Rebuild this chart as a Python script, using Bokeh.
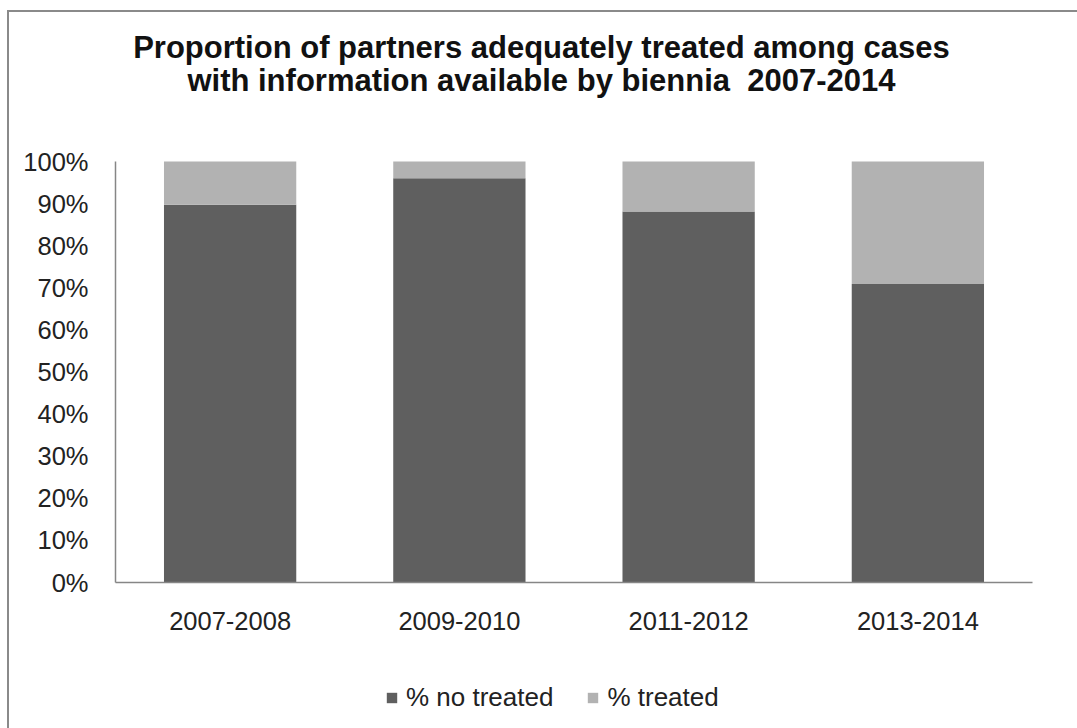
from bokeh.plotting import figure
from bokeh.layouts import column
from bokeh.models import (Legend, LegendItem, Label, NumeralTickFormatter,
                          FixedTicker, FactorRange, Range1d, ColumnDataSource)
from bokeh.embed import file_html
from bokeh.resources import INLINE

categories = ["2007-2008", "2009-2010", "2011-2012", "2013-2014"]
no_treated = [0.897, 0.960, 0.881, 0.709]
treated = [0.103, 0.040, 0.119, 0.291]
series_names = ["% no treated", "% treated"]
y_ticks = [0.0, 0.1, 0.2, 0.3, 0.4, 0.5, 0.6, 0.7, 0.8, 0.9, 1.0]
title_lines = ["Proportion of partners adequately treated among cases",
               "with information available by biennia \u00a02007-2014"]

DARK = "#5f5f5f"
LIGHT = "#b2b2b2"
FONT = "Liberation Sans"

source = ColumnDataSource(dict(cat=categories, no=no_treated, tr=treated))

# main chart; its frame also holds the title area (570 px tall, 421 px per 100 %)
p = figure(width=1068, height=630, output_backend="svg", toolbar_location=None,
           x_range=FactorRange(factors=categories, range_padding=0),
           y_range=Range1d(0, 570 / 421),
           min_border_left=106, min_border_top=0, min_border_right=45,
           min_border_bottom=60)

rends = p.vbar_stack(["no", "tr"], x="cat", width=0.577, color=[DARK, LIGHT],
                     line_color=None, source=source)

p.outline_line_color = None
p.xgrid.grid_line_color = None
p.ygrid.grid_line_color = None
p.background_fill_color = "white"
p.border_fill_color = "white"

p.yaxis.ticker = FixedTicker(ticks=y_ticks)
p.yaxis.formatter = NumeralTickFormatter(format="0%")
p.yaxis.bounds = (0, 1)
for ax in (p.xaxis[0], p.yaxis[0]):
    ax.axis_line_color = "#868686"
    ax.axis_line_width = 1.5
    ax.major_tick_line_color = None
    ax.minor_tick_line_color = None
    ax.major_tick_out = 0
    ax.major_tick_in = 0
    ax.major_label_text_font = FONT
    ax.major_label_text_font_size = "25.5px"
    ax.major_label_text_color = "#222222"
p.yaxis.major_label_standoff = 27
p.xaxis.major_label_standoff = 29

for txt, y in zip(title_lines, [(582 - 47) / 421, (582 - 80) / 421]):
    p.add_layout(Label(x=1.858, y=y, text=txt, text_align="center",
                       text_baseline="middle", text_font=FONT,
                       text_font_size="31px", text_font_style="bold",
                       text_color="#111111"))

# legend strip below the chart: same data, drawn out of view, only the key shows
p2 = figure(width=1068, height=86, output_backend="svg", toolbar_location=None,
            x_range=FactorRange(factors=categories, range_padding=0),
            y_range=Range1d(2, 3),
            x_axis_location=None, y_axis_location=None,
            min_border_left=0, min_border_right=0, min_border_top=0,
            min_border_bottom=0)
p2.outline_line_color = None
p2.xgrid.grid_line_color = None
p2.ygrid.grid_line_color = None
keys = p2.vbar_stack(["no", "tr"], x="cat", width=0.577, color=[DARK, LIGHT],
                     line_color=None, source=source)

legend = Legend(items=[LegendItem(label=series_names[0], renderers=[keys[0]]),
                       LegendItem(label=series_names[1], renderers=[keys[1]])],
                orientation="horizontal", location=(270, 15),
                label_text_font=FONT, label_text_font_size="26px",
                label_text_color="#222222", glyph_width=13, glyph_height=13,
                label_standoff=8, spacing=33, padding=2, margin=0,
                border_line_color=None, background_fill_alpha=0)
p2.add_layout(legend, "center")

layout = column(p, p2, spacing=0,
                styles={"border-top": "2px solid #8a8a8a",
                        "border-left": "2px solid #8a8a8a",
                        "margin-left": "7px", "margin-top": "10px"})

open("out.html", "w").write(file_html(layout, INLINE))
